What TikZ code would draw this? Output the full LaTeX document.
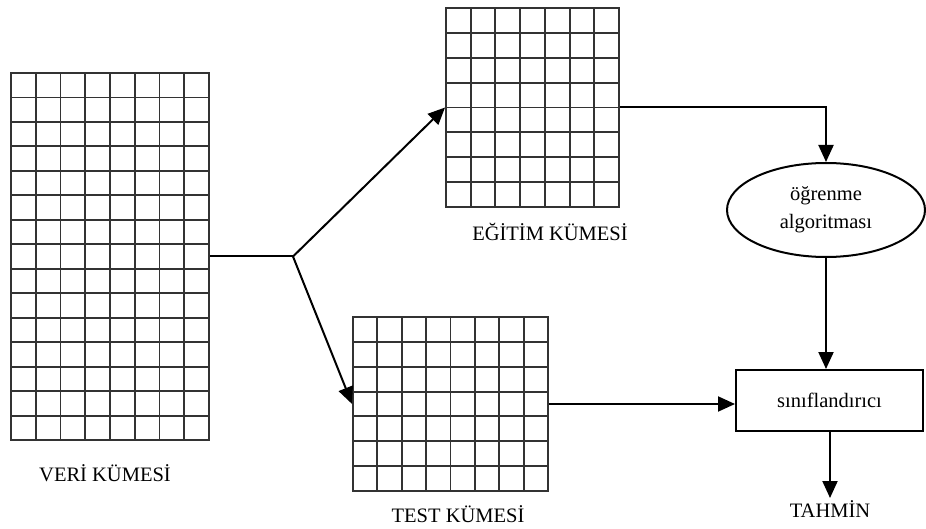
\documentclass[tikz,border=0pt]{standalone}
\usepackage{fontspec}
\setmainfont{Liberation Serif}
\usepackage{tikz}
\usetikzlibrary{shapes}
\usetikzlibrary{positioning}
\usetikzlibrary{arrows.meta}

\begin{document}
\begin{tikzpicture}[x=1pt,y=-1pt,
  cell/.style={draw=black!80,line width=1.9pt},
  frame/.style={cell,inner sep=0pt},
  line/.style={draw,line width=2pt},
  conn/.style={line,-{Triangle[length=17pt,width=15pt]}},
  lbl/.style={font=\fontsize{20.5}{28}\selectfont,inner sep=2pt}]
\useasboundingbox (0,0) rectangle (926,529);
% veri kumesi
\node[frame,minimum width=198pt,minimum height=367pt] (veri) at (110,256.5) {};
\foreach \i in {1,...,7} \draw[cell] (11+\i*24.75,73) -- ++(0,367);
\foreach \j in {1,...,14} \draw[cell] (11,73+\j*24.47) -- ++(198,0);
\node[lbl] (veriL) at (105,473) {VERİ KÜMESİ};
% egitim kumesi
\node[frame,minimum width=173pt,minimum height=199pt] (egitim) at (532.5,107.5) {};
\foreach \i in {1,...,6} \draw[cell] (446+\i*24.71,8) -- ++(0,199);
\foreach \j in {1,...,7} \draw[cell] (446,8+\j*24.875) -- ++(173,0);
\node[lbl] (egitimL) at (550,232) {EĞİTİM KÜMESİ};
% test kumesi
\node[frame,minimum width=195pt,minimum height=174pt] (test) at (450.5,404) {};
\foreach \i in {1,...,7} \draw[cell] (353+\i*24.375,317) -- ++(0,174);
\foreach \j in {1,...,6} \draw[cell] (353,317+\j*24.857) -- ++(195,0);
\node[lbl] (testL) at (458,514) {TEST KÜMESİ};
% algoritma, siniflandirici
\node[lbl,ellipse,line,inner sep=0pt,minimum width=198pt,minimum height=94pt,align=center] (ogrenme) at (826,210) {öğrenme\\algoritması};
\node[lbl,line,minimum width=187pt,minimum height=61pt] (sinif) at (829.5,400.5) {sınıflandırıcı};
\node[lbl,anchor=north] (tahmin) at (830,498) {TAHMİN};
% baglantilar
\coordinate (split) at (293,256.5);
\draw[line] (veri.east) -- (split);
\draw[conn] (split) -- (egitim.west);
\draw[conn] (split) -- (test.west);
\draw[conn] (egitim.east) -| (ogrenme.north);
\draw[conn] (ogrenme.south) -- (ogrenme.south |- sinif.north);
\draw[conn] (test.east) -- (test.east -| sinif.west);
\draw[conn] (sinif.south -| tahmin.north) -- (tahmin.north);
\end{tikzpicture}
\end{document}
